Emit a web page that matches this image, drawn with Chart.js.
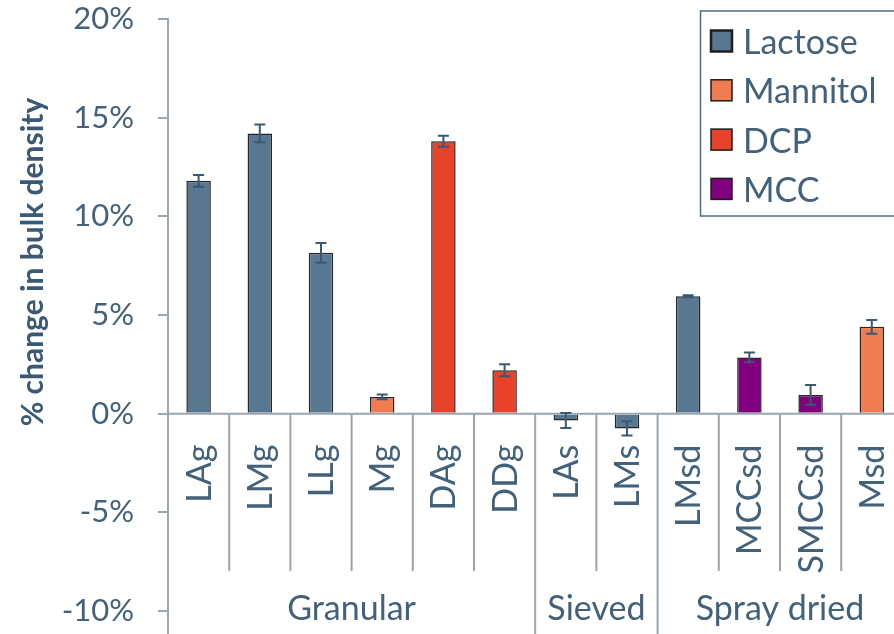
<!DOCTYPE html>
<html>
<head>
<meta charset="utf-8">
<script src="https://cdn.jsdelivr.net/npm/chart.js@4/dist/chart.umd.min.js"></script>
<style>
  html, body { margin: 0; padding: 0; background: #fff; overflow: hidden; }
  #wrap { width: 904px; height: 634px; position: relative; }
</style>
</head>
<body>
<div id="wrap"><canvas id="c" width="904" height="634"></canvas></div>
<script>
// Sample codes along the category axis
const categories = ['LAg', 'LMg', 'LLg', 'Mg', 'DAg', 'DDg', 'LAs', 'LMs', 'LMsd', 'MCCsd', 'SMCCsd', 'Msd'];
// Processing groups and how many samples each spans
const groups = ['Granular', 'Sieved', 'Spray dried'];
const groupSizes = [6, 2, 4];

// % change in bulk density, one series per excipient
const lactose  = [11.8, 14.2, 8.15, null, null, null, -0.35, -0.75, 5.95, null, null, null];
const mannitol = [null, null, null, 0.85, null, null, null, null, null, null, null, 4.4];
const dcp      = [null, null, null, null, 13.8, 2.2, null, null, null, null, null, null];
const mcc      = [null, null, null, null, null, null, null, null, null, 2.85, 0.95, null];

// Error bar half-widths (same layout as the series above)
const lactoseErr  = [0.3, 0.45, 0.5, null, null, null, 0.38, 0.36, 0.05, null, null, null];
const mannitolErr = [null, null, null, 0.12, null, null, null, null, null, null, null, 0.35];
const dcpErr      = [null, null, null, null, 0.28, 0.3, null, null, null, null, null, null];
const mccErr      = [null, null, null, null, null, null, null, null, null, 0.25, 0.5, null];

// Value axis range and tick step (percent)
const yMin = -10, yMax = 20, yStep = 5;
const yTitle = '% change in bulk density';

const TEXT = '#42617b';
const AXIS = '#9aa5b0';
const ERR = '#3b5872';
const FONT = 'Lato, "Open Sans", sans-serif';

const datasets = [
  { label: 'Lactose',  data: lactose,  err: lactoseErr,  backgroundColor: '#587791' },
  { label: 'Mannitol', data: mannitol, err: mannitolErr, backgroundColor: '#f07c50' },
  { label: 'DCP',      data: dcp,      err: dcpErr,      backgroundColor: '#e8432a' },
  { label: 'MCC',      data: mcc,      err: mccErr,      backgroundColor: '#800080' }
].map(d => Object.assign(d, {
  borderColor: '#262626',
  borderWidth: 1.5,
  skipNull: true,
  categoryPercentage: 1,
  barPercentage: 0.4
}));

// Zero line, error bars, category/group labels, dividers, axis title and legend box
const decorations = {
  id: 'decorations',
  afterDatasetsDraw(chart) {
    const ctx = chart.ctx;
    const ys = chart.scales.y;
    const area = chart.chartArea;
    const y0 = ys.getPixelForValue(0);

    ctx.save();
    ctx.strokeStyle = AXIS;
    ctx.lineWidth = 2;
    ctx.beginPath();
    ctx.moveTo(area.left, y0);
    ctx.lineTo(area.right + 10, y0);
    ctx.stroke();

    ctx.strokeStyle = ERR;
    ctx.lineWidth = 2;
    chart.data.datasets.forEach((ds, di) => {
      const meta = chart.getDatasetMeta(di);
      meta.data.forEach((bar, i) => {
        const v = ds.data[i], e = ds.err[i];
        if (v == null || e == null) return;
        const yt = ys.getPixelForValue(v + e);
        const yb = ys.getPixelForValue(v - e);
        const cap = 5.5;
        ctx.beginPath();
        ctx.moveTo(bar.x, yt); ctx.lineTo(bar.x, yb);
        ctx.moveTo(bar.x - cap, yt); ctx.lineTo(bar.x + cap, yt);
        ctx.moveTo(bar.x - cap, yb); ctx.lineTo(bar.x + cap, yb);
        ctx.stroke();
      });
    });
    ctx.restore();
  },
  afterDraw(chart) {
    const ctx = chart.ctx;
    const xs = chart.scales.x;
    const ys = chart.scales.y;
    const area = chart.chartArea;
    const H = chart.height;
    const y0 = ys.getPixelForValue(0);

    ctx.save();
    // y axis line continues below the plot
    ctx.strokeStyle = AXIS;
    ctx.lineWidth = 2;
    ctx.beginPath();
    ctx.moveTo(area.left, area.bottom);
    ctx.lineTo(area.left, H);
    ctx.stroke();

    // dividers between categories; group boundaries run to the bottom
    const bounds = [];
    let acc = 0;
    groupSizes.forEach(n => { acc += n; bounds.push(acc); });
    for (let i = 1; i < categories.length; i++) {
      const x = (xs.getPixelForValue(i - 1) + xs.getPixelForValue(i)) / 2;
      const full = bounds.includes(i);
      ctx.beginPath();
      ctx.moveTo(x, y0);
      ctx.lineTo(x, full ? H : 571);
      ctx.stroke();
    }

    // rotated category labels
    ctx.fillStyle = TEXT;
    ctx.font = '34px ' + FONT;
    ctx.textAlign = 'right';
    ctx.textBaseline = 'middle';
    categories.forEach((c, i) => {
      const x = xs.getPixelForValue(i);
      ctx.save();
      ctx.translate(x + 1, y0 + 31);
      ctx.rotate(-Math.PI / 2);
      ctx.fillText(c, 0, 0);
      ctx.restore();
    });

    // group labels
    ctx.textAlign = 'center';
    let start = 0;
    groups.forEach((g, gi) => {
      const end = start + groupSizes[gi];
      const xl = start === 0 ? area.left : (xs.getPixelForValue(start - 1) + xs.getPixelForValue(start)) / 2;
      const xr = end === categories.length ? area.right : (xs.getPixelForValue(end - 1) + xs.getPixelForValue(end)) / 2;
      ctx.fillText(g, (xl + xr) / 2, 609);
      start = end;
    });

    // value axis title
    ctx.save();
    ctx.fillStyle = '#3a5974';
    ctx.font = 'bold 30px ' + FONT;
    ctx.translate(33, 262);
    ctx.rotate(-Math.PI / 2);
    ctx.fillText(yTitle, 0, 0);
    ctx.restore();

    // legend box
    ctx.strokeStyle = '#4f6d86';
    ctx.lineWidth = 1.5;
    ctx.strokeRect(700.5, 11, 260, 205);
    ctx.textAlign = 'left';
    chart.data.datasets.forEach((ds, i) => {
      const cy = 41 + i * 49.3;
      ctx.fillStyle = ds.backgroundColor;
      ctx.fillRect(711, cy - 10.5, 21, 21);
      ctx.strokeStyle = '#1e1e1e';
      ctx.lineWidth = i === 0 ? 2.5 : 1.5;
      ctx.strokeRect(711, cy - 10.5, 21, 21);
      ctx.fillStyle = TEXT;
      ctx.fillText(ds.label, 743, cy + 2);
    });
    ctx.restore();
  }
};

new Chart(document.getElementById('c'), {
  type: 'bar',
  data: { labels: categories, datasets },
  options: {
    responsive: false,
    animation: false,
    layout: { padding: { left: 0, right: 1.6, top: 19, bottom: 23 } },
    plugins: {
      legend: { display: false },
      tooltip: { enabled: false }
    },
    scales: {
      x: { display: false, grid: { display: false } },
      y: {
        min: yMin,
        max: yMax,
        afterFit(scale) {
          scale.width = 168;
          scale.paddingTop = 0;
          scale.paddingBottom = 0;
        },
        ticks: {
          stepSize: yStep,
          padding: 24,
          color: TEXT,
          font: { family: FONT, size: 31 },
          callback: v => v + '%'
        },
        grid: { drawOnChartArea: false, tickLength: 10, color: AXIS, lineWidth: 2 },
        border: { color: AXIS, width: 2 }
      }
    }
  },
  plugins: [decorations]
});
</script>
</body>
</html>
